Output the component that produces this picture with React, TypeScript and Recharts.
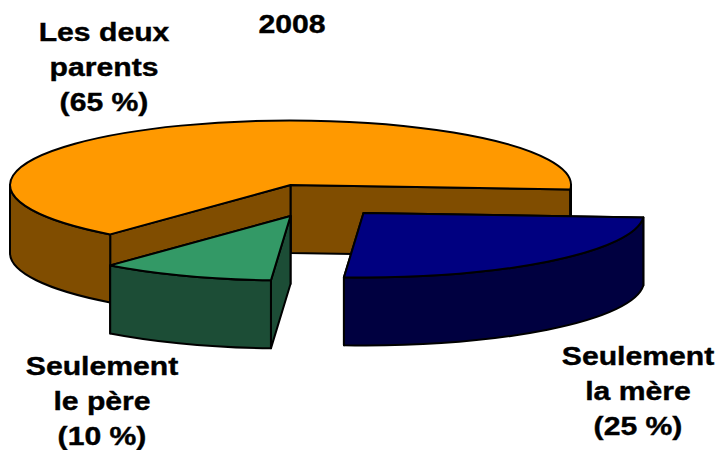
import { PieChart, Pie, Cell } from "recharts";

const SLICE_NAMES = ["Les deux parents", "Seulement le père", "Seulement la mère"];
const SLICE_VALUES = [65, 10, 25];
const SLICE_LABELS = [
  ["Les deux", "parents", "(65 %)"],
  ["Seulement", "le père", "(10 %)"],
  ["Seulement", "la mère", "(25 %)"],
];
const TITLE = "2008";

const TOP_COLORS = ["#FF9900", "#339966", "#000080"];
const WALL_COLORS = ["#804D00", "#1C4D36", "#000040"];
// how far each slice is pulled out of the pie, in px
const EXPLODE = [
  { dx: 0, dy: 0 },
  { dx: 0, dy: 31 },
  { dx: 73, dy: 28 },
];
const LABEL_POS = [
  { x: 104, y: 41 },
  { x: 102, y: 375 },
  { x: 638, y: 365 },
];

const chartData = SLICE_NAMES.map((name, i) => ({ name, value: SLICE_VALUES[i] }));

const CX = 290.5;
const CY = 185;
const RX = 280.5;
const RY = 64.5; // squashed radius of the tilted pie
const DEPTH = 68;
const LINE_GAP = 35;
const STRETCH = 1.16; // text in the picture is wider than the font
const FONT = "'Liberation Sans', Arial, sans-serif";

function WideText({ x, y, children }: { x: number; y: number; children: string }) {
  return (
    <text
      transform={`translate(${x} ${y}) scale(${STRETCH} 1)`}
      textAnchor="middle"
      fontFamily={FONT}
      fontWeight="bold"
      fontSize={26}
      fill="#000"
      stroke="#000"
      strokeWidth={0.4}
    >
      {children}
    </text>
  );
}

function Slice3D(props: any) {
  const { cx, cy, outerRadius, startAngle, endAngle, fill, name } = props;
  const i = SLICE_NAMES.indexOf(name);
  const ox = cx + EXPLODE[i].dx;
  const oy = cy + EXPLODE[i].dy;
  const ratio = RY / outerRadius;
  const px = (deg: number) => ox + outerRadius * Math.cos((deg * Math.PI) / 180);
  const py = (deg: number) => oy - outerRadius * ratio * Math.sin((deg * Math.PI) / 180);
  const ry = outerRadius * ratio;
  const a0 = Math.min(startAngle, endAngle);
  const a1 = Math.max(startAngle, endAngle);
  const wall = WALL_COLORS[i];

  const cutWall = (deg: number) =>
    `M${ox},${oy} L${px(deg)},${py(deg)} L${px(deg)},${py(deg) + DEPTH} L${ox},${oy + DEPTH} Z`;

  // only the part of the rim facing the viewer (lower half of the ellipse) gets a wall
  const rims: string[] = [];
  [-360, 0].forEach((shift) => {
    const from = Math.max(a0, 180 + shift);
    const to = Math.min(a1, 360 + shift);
    if (to > from) {
      const big = to - from > 180 ? 1 : 0;
      rims.push(
        `M${px(from)},${py(from)} A${outerRadius},${ry} 0 ${big} 0 ${px(to)},${py(to)} ` +
          `L${px(to)},${py(to) + DEPTH} A${outerRadius},${ry} 0 ${big} 1 ${px(from)},${py(from) + DEPTH} Z`
      );
    }
  });

  const big = a1 - a0 > 180 ? 1 : 0;
  const top = `M${ox},${oy} L${px(a0)},${py(a0)} A${outerRadius},${ry} 0 ${big} 0 ${px(a1)},${py(a1)} Z`;

  return (
    <g stroke="#000" strokeWidth={2} strokeLinejoin="round">
      <path d={cutWall(a0)} fill={wall} />
      <path d={cutWall(a1)} fill={wall} />
      {rims.map((d) => (
        <path key={d} d={d} fill={wall} />
      ))}
      <path d={top} fill={fill} />
    </g>
  );
}

function SliceLabel(props: any) {
  const i = SLICE_NAMES.indexOf(props.name);
  return (
    <g>
      {SLICE_LABELS[i].map((line, n) => (
        <WideText key={line} x={LABEL_POS[i].x} y={LABEL_POS[i].y + n * LINE_GAP}>
          {line}
        </WideText>
      ))}
    </g>
  );
}

export default function App() {
  return (
    <div style={{ position: "absolute", left: 0, top: 0, width: 718, height: 450, background: "#fff" }}>
      <PieChart width={718} height={450} margin={{ top: 0, right: 0, bottom: 0, left: 0 }}>
        <Pie
          data={chartData}
          dataKey="value"
          nameKey="name"
          cx={CX}
          cy={CY}
          innerRadius={0}
          outerRadius={RX}
          startAngle={-4}
          endAngle={356}
          paddingAngle={0}
          shape={Slice3D}
          label={SliceLabel}
          labelLine={false}
          isAnimationActive={false}
        >
          {chartData.map((d, i) => (
            <Cell key={d.name} fill={TOP_COLORS[i]} />
          ))}
        </Pie>
        <WideText x={292} y={33}>
          {TITLE}
        </WideText>
      </PieChart>
    </div>
  );
}
